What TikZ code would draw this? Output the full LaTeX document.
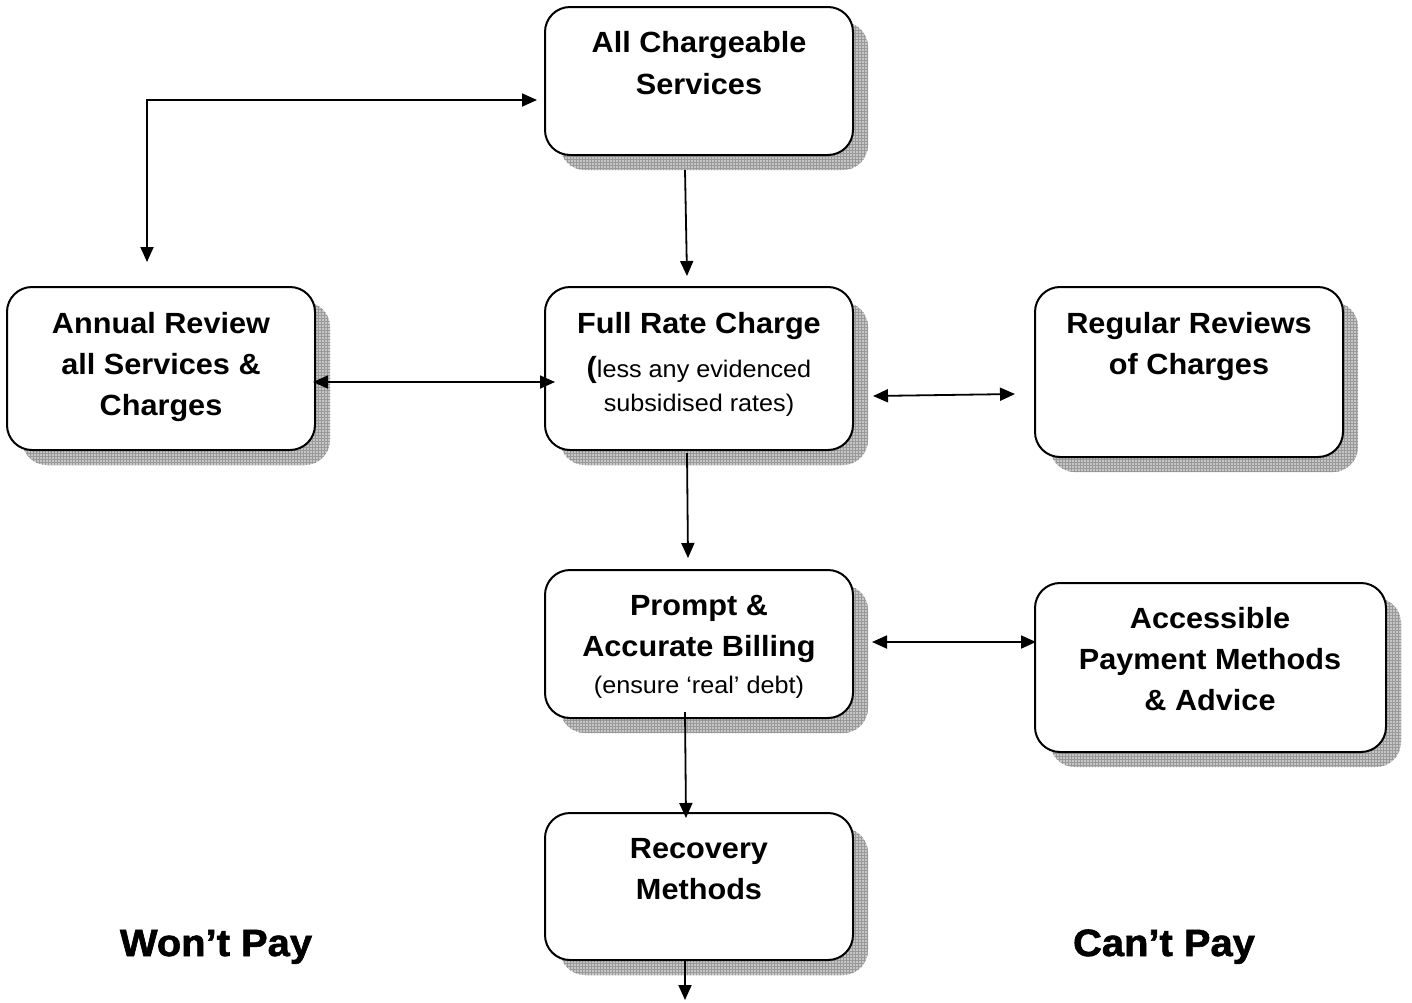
\documentclass[tikz,border=0pt]{standalone}
\usepackage{fontspec}
\setmainfont[FakeStretch=1.05]{Liberation Sans}
\usetikzlibrary{arrows.meta,patterns}
\newcommand\mkbox[5]{%
  \node[shadownode, minimum width={#4-#2}, minimum height={#5-#3}] (#1s) at ({(#2+#4)/2+15},{(#3+#5)/2+15}) {};
  \node[boxnode, minimum width={#4-#2}, minimum height={#5-#3}] (#1) at ({(#2+#4)/2},{(#3+#5)/2}) {};}
\begin{document}
\begin{tikzpicture}[x=1pt,y=-1pt,
  boxnode/.style={draw=black, line width=2pt, fill=white, rounded corners=25pt, inner sep=0pt, outer sep=0pt, rectangle},
  shadownode/.style={fill=gray!45, rounded corners=25pt, inner sep=0pt, outer sep=0pt, rectangle,
     postaction={pattern=grid, pattern color=gray!80}},
  big/.style={font=\fontsize{29.2}{34}\selectfont\bfseries, anchor=base, inner sep=0pt},
  small/.style={font=\fontsize{24}{28}\selectfont, anchor=base, inner sep=0pt},
  label/.style={font=\fontsize{38}{44}\selectfont\bfseries\addfontfeatures{FakeBold=1.6}, anchor=base, inner sep=0pt},
  conn/.style={line width=1.8pt, -{Triangle[length=15pt,width=13pt]}},
  dconn/.style={line width=1.8pt, {Triangle[length=15pt,width=13pt]}-{Triangle[length=15pt,width=13pt]}}]
\useasboundingbox (0,0) rectangle (1412,1002);
\fill[white] (0,0) rectangle (1412,1002);

\mkbox{acs}{545}{7}{853}{155}
\mkbox{frc}{545}{287}{853}{450}
\mkbox{ann}{7}{287}{315}{450}
\mkbox{reg}{1035}{287}{1343}{457}
\mkbox{pab}{545}{570}{853}{718}
\mkbox{apm}{1035}{583}{1386}{752}
\mkbox{rec}{545}{813}{853}{960}

% texts
\node[big] (acs1) at (699,52) {All Chargeable};
\node[big] (acs2) at (699,94) {Services};
\node[big] (frc1) at (699,333) {Full Rate Charge};
\node[small] (frc2) at (699,377) {{\fontsize{29.2}{34}\selectfont\bfseries (}less any evidenced};
\node[small] (frc3) at (699,411) {subsidised rates)};
\node[big] (ann1) at (161,333) {Annual Review};
\node[big] (ann2) at (161,374) {all Services \&};
\node[big] (ann3) at (161,415) {Charges};
\node[big] (reg1) at (1189,333) {Regular Reviews};
\node[big] (reg2) at (1189,374) {of Charges};
\node[big] (pab1) at (699,615) {Prompt \&};
\node[big] (pab2) at (699,656) {Accurate Billing};
\node[small] (pab3) at (699,693) {(ensure ‘real’ debt)};
\node[big] (apm1) at (1210,628) {Accessible};
\node[big] (apm2) at (1210,669) {Payment Methods};
\node[big] (apm3) at (1210,710) {\& Advice};
\node[big] (rec1) at (699,858) {Recovery};
\node[big] (rec2) at (699,899) {Methods};
\node[label] (wont) at (216,956) {Won’t Pay};
\node[label] (cant) at (1164,956) {Can’t Pay};

% connector end points
\coordinate (e1a) at (147,262);
\coordinate (e1b) at (147,100);
\coordinate (e1c) at (537,100);
\coordinate (e2a) at (685,170);
\coordinate (e2b) at (687,276);
\coordinate (e3a) at (313,382);
\coordinate (e3b) at (555,382);
\coordinate (e4a) at (873,396);
\coordinate (e4b) at (1015,394);
\coordinate (e5a) at (687,453);
\coordinate (e5b) at (688,558);
\coordinate (e6a) at (872,642);
\coordinate (e6b) at (1036,642);
\coordinate (e7a) at (685,712);
\coordinate (e7b) at (686,818);
\coordinate (e8a) at (685,960);
\coordinate (e8b) at (685,1000);

\draw[dconn] (e1a) -- (e1b) -- (e1c);
\draw[conn] (e2a) -- (e2b);
\draw[dconn] (e3a) -- (e3b);
\draw[dconn] (e4a) -- (e4b);
\draw[conn] (e5a) -- (e5b);
\draw[dconn] (e6a) -- (e6b);
\draw[conn] (e7a) -- (e7b);
\draw[conn] (e8a) -- (e8b);
\end{tikzpicture}
\end{document}
